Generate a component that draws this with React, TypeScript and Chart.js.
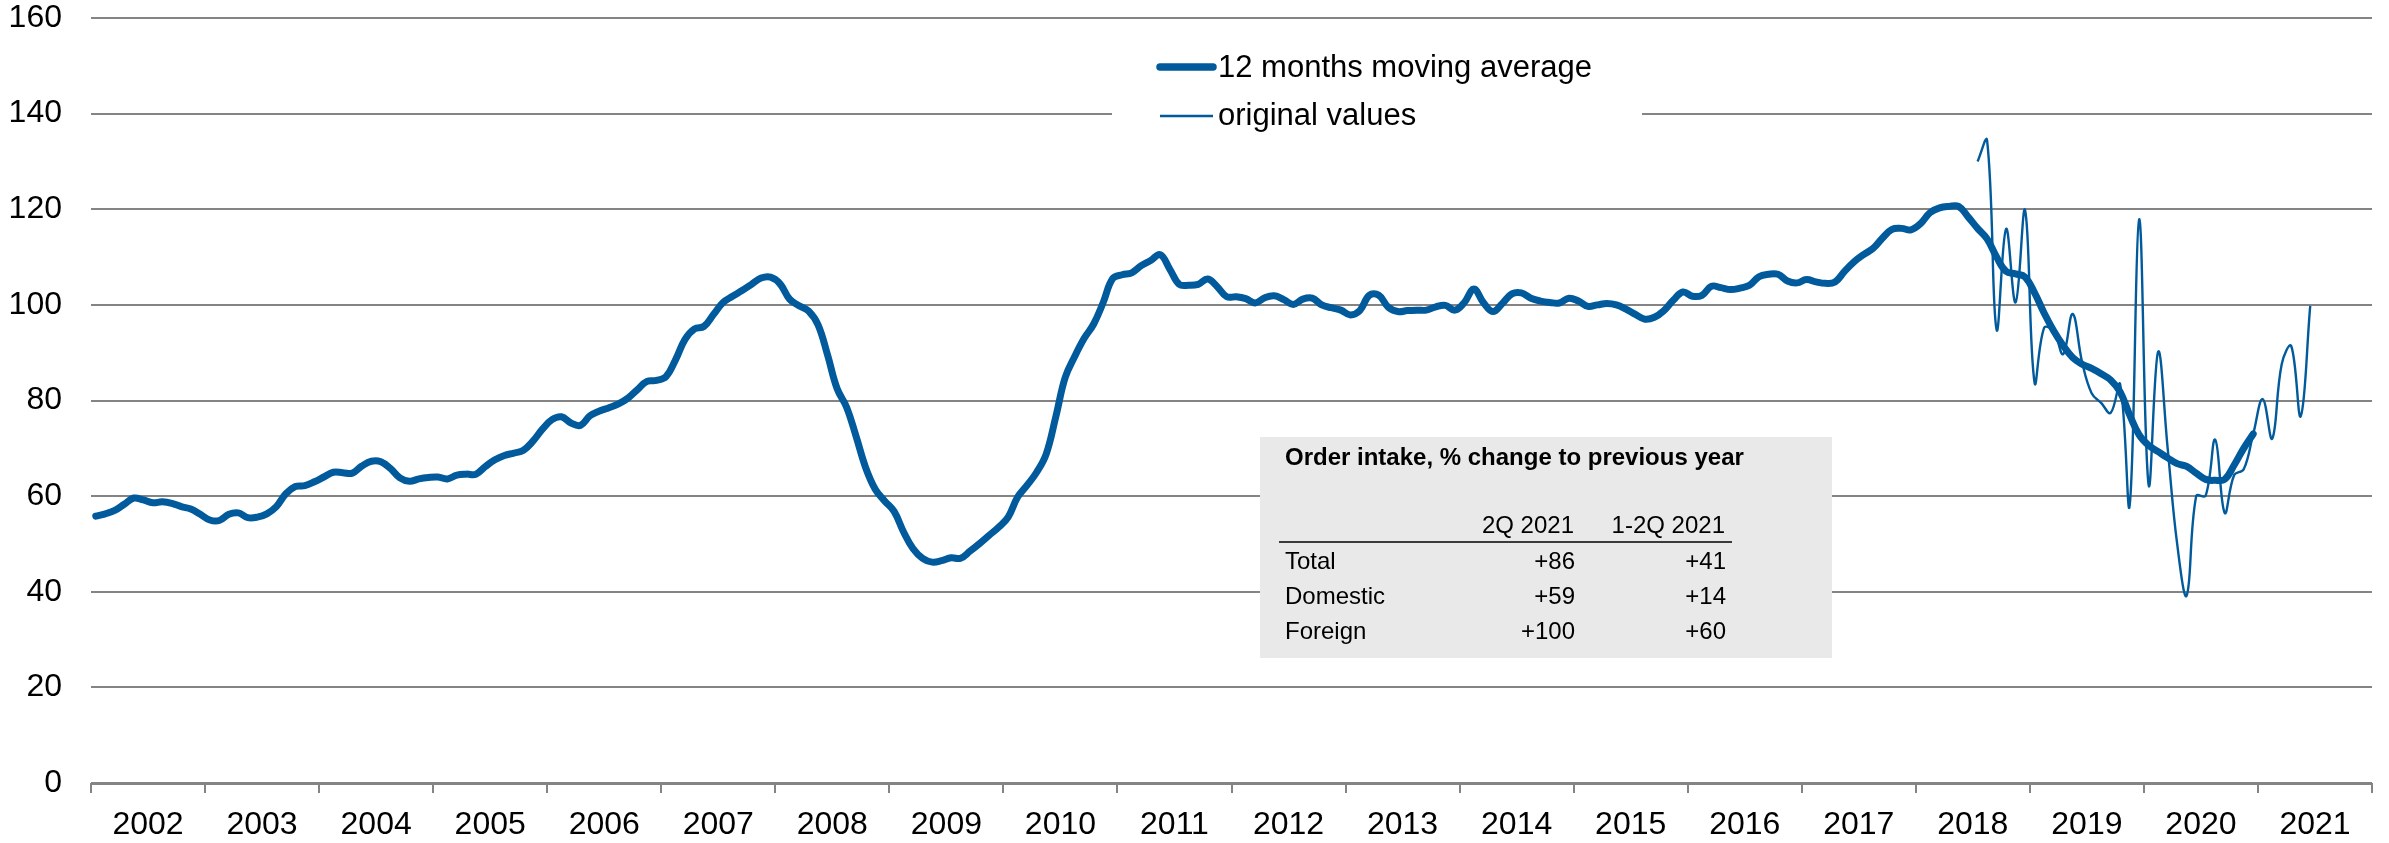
import React, { useEffect, useRef } from 'react';
import { Chart, registerables } from 'chart.js';

Chart.register(...registerables);

const FONT = "'Liberation Sans', Arial, sans-serif";
const BLUE = '#005A9B';
const GRID = '#848484';

const axisStartYear = 2002;
const axisEndYear = 2022;
const yearLabels = [2002, 2003, 2004, 2005, 2006, 2007, 2008, 2009, 2010, 2011, 2012, 2013, 2014, 2015, 2016, 2017, 2018, 2019, 2020, 2021];
const yTickValues = [0, 20, 40, 60, 80, 100, 120, 140, 160];

// 12 months moving average, monthly Jan 2002 .. Dec 2020
const movingAverage = [
  55.8, 56.3, 57.0, 58.3, 59.6, 59.2, 58.6, 58.8, 58.5, 57.8, 57.3, 56.2,
  55.0, 54.9, 56.2, 56.5, 55.5, 55.6, 56.3, 57.8, 60.5, 62.0, 62.2, 63.0,
  64.0, 65.0, 64.9, 64.8, 66.3, 67.3, 67.2, 65.8, 63.8, 63.1, 63.6, 63.9,
  64.0, 63.6, 64.4, 64.6, 64.6, 66.2, 67.6, 68.5, 69.0, 69.6, 71.5, 74.0,
  76.0, 76.6, 75.3, 74.8, 76.8, 77.8, 78.5, 79.3, 80.5, 82.3, 84.0, 84.2,
  85.0, 88.5, 92.8, 95.0, 95.5, 98.0, 100.5, 101.8, 103.0, 104.3, 105.6, 105.8,
  104.4, 101.2, 99.8, 98.7, 95.8, 89.5, 82.5, 78.6, 72.5, 66.0, 61.5, 59.0,
  56.8, 52.5, 49.0, 47.0, 46.2, 46.5, 47.1, 47.0, 48.5, 50.1, 51.8, 53.5,
  55.6, 59.8, 62.3, 65.0, 68.8, 76.5, 84.8, 89.2, 93.0, 96.0, 100.5, 105.5,
  106.3, 106.7, 108.2, 109.3, 110.5, 107.5, 104.3, 104.1, 104.3, 105.4, 103.8, 101.7,
  101.7, 101.3, 100.4, 101.5, 101.9, 101.1, 100.1, 101.2, 101.4, 100.0, 99.4, 98.9,
  97.9, 98.8, 102.0, 102.0, 99.5, 98.6, 98.8, 98.9, 98.9, 99.6, 99.9, 98.9,
  100.5, 103.3, 100.5, 98.6, 100.3, 102.3, 102.5, 101.4, 100.8, 100.5, 100.4, 101.4,
  100.8, 99.7, 100.0, 100.3, 100.0, 99.1, 98.0, 97.0, 97.4, 98.8, 101.0, 102.7,
  101.8, 102.0, 103.9, 103.6, 103.2, 103.5, 104.1, 105.9, 106.4, 106.4, 105.0, 104.6,
  105.3, 104.8, 104.5, 104.8, 107.0, 109.0, 110.5, 111.8, 114.0, 115.8, 116.0, 115.7,
  117.0, 119.3, 120.3, 120.6, 120.6, 118.4, 116.0, 113.8, 110.0, 107.0, 106.5, 105.8,
  102.5, 98.3, 94.6, 91.5, 89.0, 87.6, 86.7, 85.6, 84.3, 81.8, 77.0, 72.8,
  70.6, 69.3, 68.0, 66.8, 66.2, 64.8, 63.5, 63.3, 63.5, 66.5, 70.0, 73.0,
];
const movingAverageStart = { year: 2002, month: 0 };

// original monthly values, Jul 2018 .. Jun 2021
const originalValues = [
  130.0, 134.4, 94.8, 115.9, 100.5, 119.8,
  83.7, 95.2, 94.5, 89.7, 98.1, 88.0, 81.5, 79.5, 77.4, 83.4, 58.0, 117.9,
  62.3, 90.2, 70.0, 50.0, 39.2, 60.0, 60.1, 71.8, 56.5, 64.4, 65.6, 73.0,
  80.3, 72.0, 87.6, 91.4, 76.7, 99.8,
];
const originalStart = { year: 2018, month: 6 };

const legendLabels = ['12 months moving average', 'original values'];
const tableTitle = 'Order intake, % change to previous year';
const tableColumns = ['2Q 2021', '1-2Q 2021'];
const tableRowLabels = ['Total', 'Domestic', 'Foreign'];
const tableCol1 = ['+86', '+59', '+100'];
const tableCol2 = ['+41', '+14', '+60'];

const toPoints = (values: number[], start: { year: number; month: number }) =>
  values.map((v, i) => ({ x: start.year + (start.month + i + 0.5) / 12, y: v }));

const overlayPlugin = {
  id: 'overlays',
  beforeDatasetsDraw(chart: any) {
    const ctx = chart.ctx as CanvasRenderingContext2D;
    ctx.save();
    // legend
    ctx.fillStyle = '#ffffff';
    ctx.fillRect(1112, 38, 530, 104);
    ctx.strokeStyle = BLUE;
    ctx.lineCap = 'round';
    ctx.lineWidth = 7.5;
    ctx.beginPath();
    ctx.moveTo(1160, 67);
    ctx.lineTo(1213, 67);
    ctx.stroke();
    ctx.lineCap = 'butt';
    ctx.lineWidth = 2.4;
    ctx.beginPath();
    ctx.moveTo(1160, 116);
    ctx.lineTo(1213, 116);
    ctx.stroke();
    ctx.fillStyle = '#000';
    ctx.font = `31px ${FONT}`;
    ctx.textBaseline = 'middle';
    ctx.textAlign = 'left';
    ctx.fillText(legendLabels[0], 1218, 68);
    ctx.fillText(legendLabels[1], 1218, 116);

    // table
    ctx.fillStyle = '#E9E9E9';
    ctx.fillRect(1260, 437, 572, 221);
    ctx.fillStyle = '#000';
    ctx.textBaseline = 'alphabetic';
    ctx.font = `bold 24px ${FONT}`;
    ctx.textAlign = 'left';
    ctx.fillText(tableTitle, 1285, 465);
    ctx.font = `24px ${FONT}`;
    ctx.textAlign = 'right';
    ctx.fillText(tableColumns[0], 1574, 533);
    ctx.fillText(tableColumns[1], 1725, 533);
    ctx.strokeStyle = '#000';
    ctx.lineWidth = 1.6;
    ctx.beginPath();
    ctx.moveTo(1279, 542);
    ctx.lineTo(1732, 542);
    ctx.stroke();
    tableRowLabels.forEach((label, i) => {
      const y = 569 + i * 35;
      ctx.textAlign = 'left';
      ctx.fillText(label, 1285, y);
      ctx.textAlign = 'right';
      ctx.fillText(tableCol1[i], 1575, y);
      ctx.fillText(tableCol2[i], 1726, y);
    });
    ctx.restore();
  },
};

export default function App() {
  const canvasRef = useRef<HTMLCanvasElement | null>(null);

  useEffect(() => {
    document.body.style.margin = '0';
    document.body.style.overflow = 'hidden';
    const canvas = canvasRef.current;
    if (!canvas) return;
    const yearBoundaries: number[] = [];
    for (let y = axisStartYear; y <= axisEndYear; y++) yearBoundaries.push(y);

    const chart = new Chart(canvas, {
      type: 'line',
      data: {
        datasets: [
          {
            label: legendLabels[1],
            data: toPoints(originalValues, originalStart),
            borderColor: BLUE,
            borderWidth: 2.4,
            tension: 0.4,
            pointRadius: 0,
            fill: false,
            order: 0,
          },
          {
            label: legendLabels[0],
            data: toPoints(movingAverage, movingAverageStart),
            borderColor: BLUE,
            borderWidth: 7,
            borderCapStyle: 'round',
            borderJoinStyle: 'round',
            tension: 0.4,
            pointRadius: 0,
            fill: false,
            order: 1,
          },
        ],
      },
      options: {
        responsive: false,
        animation: false,
        devicePixelRatio: 1,
        layout: { padding: { top: 18, right: 17, bottom: 0, left: 0 } },
        plugins: { legend: { display: false }, tooltip: { enabled: false } },
        elements: { point: { radius: 0 } },
        scales: {
          x: {
            type: 'linear',
            position: 'bottom',
            weight: 0,
            min: axisStartYear,
            max: axisEndYear,
            afterBuildTicks: (s: any) => {
              s.ticks = yearBoundaries.map((v) => ({ value: v }));
            },
            afterFit: (s: any) => {
              s.height = 12;
              s.paddingLeft = 0;
              s.paddingRight = 0;
            },
            grid: { drawOnChartArea: false, color: GRID, lineWidth: 2, tickLength: 10, drawTicks: true },
            border: { display: false },
            ticks: { display: false, autoSkip: false },
          },
          x2: {
            type: 'linear',
            position: 'bottom',
            weight: 1,
            min: axisStartYear,
            max: axisEndYear,
            afterBuildTicks: (s: any) => {
              s.ticks = yearLabels.map((y) => ({ value: y + 0.5 }));
            },
            afterFit: (s: any) => {
              s.height = 48;
              s.paddingLeft = 0;
              s.paddingRight = 0;
            },
            grid: { display: false, drawTicks: false },
            border: { display: false },
            ticks: {
              autoSkip: false,
              maxRotation: 0,
              padding: 11,
              color: '#000',
              font: { family: FONT, size: 32 },
              callback: (v: any) => String(Math.floor(Number(v))),
            },
          },
          y: {
            min: 0,
            max: 160,
            afterBuildTicks: (s: any) => {
              s.ticks = yTickValues.map((v) => ({ value: v }));
            },
            afterFit: (s: any) => {
              s.width = 91;
              s.paddingTop = 0;
              s.paddingBottom = 0;
            },
            grid: {
              color: GRID,
              lineWidth: (c: any) => (c.tick && c.tick.value === 0 ? 3 : 2),
              drawTicks: false,
            },
            border: { display: false },
            ticks: {
              padding: 29,
              color: '#000',
              font: { family: FONT, size: 32, lineHeight: 1.1 },
            },
          },
        },
      },
      plugins: [overlayPlugin],
    } as any);
    return () => chart.destroy();
  }, []);

  return (
    <div style={{ position: 'absolute', left: 0, top: 0, width: 2389, height: 843 }}>
      <canvas ref={canvasRef} width={2389} height={843} style={{ width: 2389, height: 843, display: 'block' }} />
    </div>
  );
}
